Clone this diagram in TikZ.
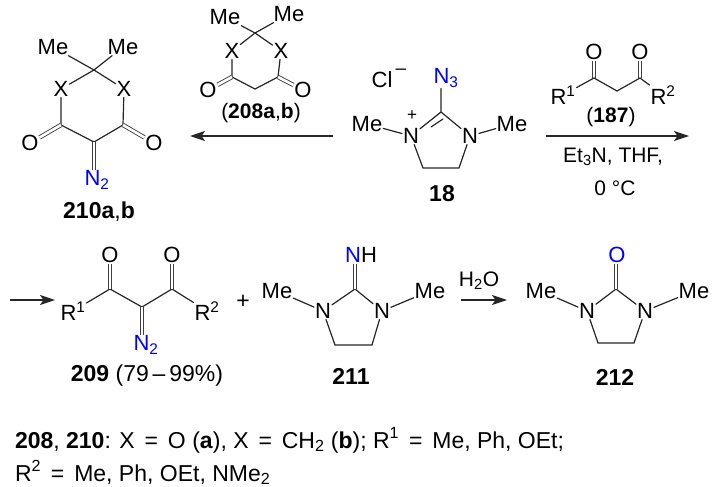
\documentclass[tikz,border=0pt]{standalone}
\usepackage{fontspec}
\setmainfont{Liberation Sans}
\usetikzlibrary{arrows.meta,calc}
\definecolor{hetblue}{RGB}{0,0,255}
\newcommand{\fs}{\fontsize{23}{27}\selectfont}
\newcommand{\fa}{\fontsize{21}{25}\selectfont}
\newcommand{\fb}{\fontsize{22}{26}\selectfont}
\newcommand{\eqs}{\kern3.5pt{} = \kern3.5pt{}}
\tikzset{
  txt/.style={inner sep=0pt,outer sep=0pt,font=\fa,text=black},
  lab/.style={txt,font=\fs\bfseries},
  foot/.style={txt,font=\fs,anchor=base west},
  atom/.style={txt,font=\fb,inner sep=1pt},
  het/.style={atom,text=hetblue},
  bnd/.style={draw=black!85,line width=1.2pt,line cap=round},
  dbl/.style={draw=black!75,line width=0.9pt,double=white,double distance=2.6pt},
  rxn/.style={draw=black!85,line width=1.2pt,-{Stealth[length=15pt,width=10pt,inset=3.5pt]}}
}
\begin{document}
\begin{tikzpicture}[x=1pt,y=-1pt]
\useasboundingbox (0,0) rectangle (712,487);
% --- 210a,b
\node[atom] (a1) at (53,47) {Me};
\node[atom] (a2) at (123,47) {Me};
\coordinate (ac) at (94,70);
\node[atom] (ax1) at (61,89) {X};
\node[atom] (ax2) at (124,89) {X};
\coordinate (acl) at (61,125);
\coordinate (acr) at (123,125);
\coordinate (acb) at (94,142);
\node[atom] (ao1) at (30,143) {O};
\node[atom] (ao2) at (154,143) {O};
\node[het] (an) at (97,180) {N\textsubscript{2}};
\node[lab] (al) at (99,212) {210a\textmd{,}b};
\draw[bnd] (a1) -- (ac) (a2) -- (ac) (ax1) -- (ac) (ax2) -- (ac) (ax1) -- (acl) (ax2) -- (acr) (acl) -- (acb) -- (acr);
\draw[dbl] (acl) -- (ao1);
\draw[dbl] (acr) -- (ao2);
\draw[dbl] (acb) -- (acb |- an.north);
% --- 208a,b
\node[atom] (b1) at (225,17) {Me};
\node[atom] (b2) at (289,14) {Me};
\coordinate (bc) at (255,33);
\node[atom] (bx1) at (232,51) {X};
\node[atom] (bx2) at (281,51) {X};
\coordinate (bcl) at (232,77);
\coordinate (bcr) at (278,77);
\coordinate (bcb) at (255,89);
\node[atom] (bo1) at (208,90) {O};
\node[atom] (bo2) at (303,90) {O};
\node[txt] (bl) at (261,113) {(\textbf{208a}\textmd{,}\textbf{b})};
\draw[bnd] (b1) -- (bc) (b2) -- (bc) (bx1) -- (bc) (bx2) -- (bc) (bx1) -- (bcl) (bx2) -- (bcr) (bcl) -- (bcb) -- (bcr);
\draw[dbl] (bcl) -- (bo1);
\draw[dbl] (bcr) -- (bo2);
% --- arrows top
\coordinate (r1s) at (333,136);
\coordinate (r1e) at (190,136);
\draw[rxn] (r1s) -- (r1e);
\coordinate (r2s) at (546,136);
\coordinate (r2e) at (689,136);
\draw[rxn] (r2s) -- (r2e);
% --- 18
\node[atom] (cl) at (382,80) {Cl};
\node[txt,font=\fontsize{19}{20}\selectfont] (clm) at (401,72) {–};
\node[het] (cn3) at (446,78) {N\textsubscript{3}};
\coordinate (cc) at (441,112);
\node[atom] (cnl) at (411,136) {N};
\node[txt,font=\fontsize{17}{20}\selectfont] (cplus) at (412,116) {+};
\node[atom] (cnr) at (470,136) {N};
\node[atom] (cm1) at (367,124) {Me};
\node[atom] (cm2) at (512,124) {Me};
\coordinate (cc1) at (423,168);
\coordinate (cc2) at (459,168);
\coordinate (cd1) at (431,127);
\coordinate (cd2) at (443,119);
\node[lab] (cl18) at (442,194) {18};
\draw[bnd] (cc) -- (cc |- cn3.south) (cnl) -- (cc) -- (cnr) (cnl) -- (cc1) -- (cc2) -- (cnr) (cm1) -- (cnl) (cm2) -- (cnr) (cd1) -- (cd2);
% --- 187
\node[atom] (do1) at (594,52) {O};
\node[atom] (do2) at (640,52) {O};
\coordinate (dc1) at (594,78);
\coordinate (dc2) at (640,78);
\coordinate (dcm) at (617,91);
\node[atom] (dr1) at (563,95) {R\textsuperscript{1}};
\node[atom] (dr2) at (663,95) {R\textsuperscript{2}};
\node[txt] (dl) at (611,117) {(\textbf{187})};
\node[txt] (dt1) at (613,157) {Et\textsubscript{3}N, THF,};
\node[txt] (dt2) at (615,188) {0 °C};
\draw[dbl] (dc1) -- (do1);
\draw[dbl] (dc2) -- (do2);
\draw[bnd] (dr1) -- (dc1) -- (dcm) -- (dc2) -- (dr2);
% --- 209
\coordinate (r3s) at (10,300);
\coordinate (r3e) at (55,300);
\draw[rxn] (r3s) -- (r3e);
\node[atom] (er1) at (73,311) {R\textsuperscript{1}};
\node[atom] (er2) at (207,311) {R\textsuperscript{2}};
\coordinate (ec1) at (110,289);
\coordinate (ec2) at (172,289);
\coordinate (ecm) at (142,307);
\node[atom] (eo1) at (110,255) {O};
\node[atom] (eo2) at (172,255) {O};
\node[het] (en) at (146,345) {N\textsubscript{2}};
\node[txt,font=\fs] (el) at (147,376) {\textbf{209} (79\,–\,99\%)};
\draw[bnd] (er1) -- (ec1) -- (ecm) -- (ec2) -- (er2);
\draw[dbl] (ec1) -- (eo1);
\draw[dbl] (ec2) -- (eo2);
\draw[dbl] (ecm) -- (ecm |- en.north);
\node[txt,font=\fs] (plus) at (243,302) {+};
% --- 211
\node[atom] (fm1) at (277,291) {Me};
\node[atom] (fn1) at (323,311) {N};
\coordinate (fc) at (355,289);
\node[atom,text=hetblue] (fnh) at (361,255) {N\textcolor{black}{H}};
\node[atom] (fn2) at (382,311) {N};
\node[atom] (fm2) at (430,291) {Me};
\coordinate (fc1) at (335,345);
\coordinate (fc2) at (372,345);
\node[lab] (fl) at (351,376) {211};
\draw[bnd] (fm1) -- (fn1) -- (fc) -- (fn2) -- (fm2) (fn1) -- (fc1) -- (fc2) -- (fn2);
\draw[dbl] (fc) -- (fc |- fnh.south);
% --- water
\coordinate (r4s) at (461,300);
\coordinate (r4e) at (507,300);
\draw[rxn] (r4s) -- (r4e);
\node[txt] (wat) at (479,281) {H\textsubscript{2}O};
% --- 212
\node[atom] (gm1) at (541,291) {Me};
\node[atom] (gn1) at (587,311) {N};
\coordinate (gc) at (616,289);
\node[het] (go) at (617,255) {O};
\node[atom] (gn2) at (645,311) {N};
\node[atom] (gm2) at (694,291) {Me};
\coordinate (gc1) at (598,343);
\coordinate (gc2) at (634,343);
\node[lab] (gl) at (615,377) {212};
\draw[bnd] (gm1) -- (gn1) -- (gc) -- (gn2) -- (gm2) (gn1) -- (gc1) -- (gc2) -- (gn2);
\draw[dbl] (gc) -- (gc |- go.south);
% --- footnote
\node[foot] (n1) at (15,448) {\textbf{208}, \textbf{210}: X\eqs O (\textbf{a}), X\eqs CH\textsubscript{2} (\textbf{b}); R\textsuperscript{1}\eqs Me, Ph, OEt;};
\node[foot] (n2) at (15,481) {R\textsuperscript{2}\eqs Me, Ph, OEt, NMe\textsubscript{2}};
\end{tikzpicture}
\end{document}
